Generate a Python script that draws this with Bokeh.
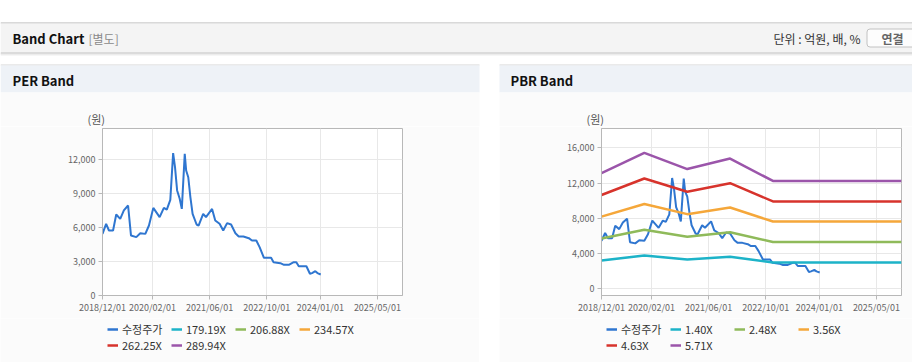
import pandas as pd
from bokeh.plotting import figure
from bokeh.models import (Range1d, FixedTicker, NumeralTickFormatter, Legend, LegendItem,
                          ColumnDataSource, Spacer)
from bokeh.layouts import column, row
from bokeh.embed import file_html
from bokeh.resources import INLINE
from bokeh.core.properties import value

FONT = "Noto Sans CJK KR"

# ---------------- data ----------------
price_name = "수정주가"
price_dates = ["2018-12-01", "2019-01-01", "2019-01-25", "2019-03-01", "2019-03-28", "2019-05-01",
               "2019-06-01", "2019-07-07", "2019-08-01", "2019-09-15", "2019-10-19", "2019-12-01",
               "2020-01-01", "2020-02-07", "2020-04-01", "2020-05-07", "2020-06-01", "2020-07-01",
               "2020-07-25", "2020-08-10", "2020-08-28", "2020-09-19", "2020-10-07", "2020-11-01",
               "2020-11-13", "2020-12-01", "2020-12-19", "2021-01-07", "2021-02-10", "2021-02-27",
               "2021-04-07", "2021-05-01", "2021-06-22", "2021-07-19", "2021-08-25", "2021-09-25",
               "2021-10-28", "2021-12-01", "2022-01-07", "2022-02-04", "2022-03-16", "2022-05-01",
               "2022-05-28", "2022-07-04", "2022-08-01", "2022-09-07", "2022-11-07", "2022-11-28",
               "2023-01-25", "2023-02-25", "2023-04-07", "2023-05-19", "2023-06-10", "2023-07-01",
               "2023-09-04", "2023-10-04", "2023-10-22", "2023-11-19", "2023-12-07", "2024-01-04"]
price_values = [5450, 6340, 5750, 5750, 7160, 6780, 7520, 7960, 5300, 5160, 5510, 5450,
                6190, 7750, 6930, 7750, 7600, 8460, 12590, 11350, 9290, 8550, 7660, 12530,
                11050, 10460, 8700, 7220, 6280, 6190, 7220, 6930, 7660, 6630, 6340, 5750,
                6400, 6280, 5510, 5220, 5220, 5070, 4860, 4860, 4280, 3330, 3330, 2950,
                2860, 2710, 2710, 2950, 2950, 2590, 2590, 1920, 1980, 2150, 1980, 1860]

# PER bands: labels only (no band values fall inside the chart)
per_band_labels = ["179.19X", "206.88X", "234.57X", "262.25X", "289.94X"]

# PBR bands
band_dates = ["2018-12-01", "2019-12-01", "2020-12-01", "2021-12-01", "2022-12-01", "2025-12-01"]
pbr_band_labels = ["1.40X", "2.48X", "3.56X", "4.63X", "5.71X"]
pbr_band_140 = [3220, 3790, 3340, 3630, 3000, 3000]
pbr_band_248 = [5710, 6710, 5910, 6430, 5320, 5320]
pbr_band_356 = [8200, 9630, 8480, 9230, 7640, 7640]
pbr_band_463 = [10660, 12530, 11030, 12000, 9930, 9930]
pbr_band_571 = [13150, 15450, 13600, 14800, 12250, 12250]

x_tick_labels = ["2018/12/01", "2020/02/01", "2021/06/01", "2022/10/01", "2024/01/01", "2025/05/01"]
per_y_ticks = [0, 3000, 6000, 9000, 12000]
pbr_y_ticks = [0, 4000, 8000, 12000, 16000]
unit_label = "(원)"

# ---------------- styles ----------------
PRICE_COLOR = "#2f76d0"
BAND_COLORS = ["#1db3c8", "#8fba5a", "#f5a73a", "#d7332c", "#9b55aa"]
AXIS_GRAY = "#b8b8b8"
GRID_GRAY = "#e8e8e8"
PANEL_BG = "#fbfbfb"
TOP_H, CHART_H, LEG_H = 126, 192, 44

x_start = pd.Timestamp("2018-12-01")
x_end = pd.Timestamp("2025-12-01")
tick_ts = [pd.to_datetime(t, format="%Y/%m/%d") for t in x_tick_labels]
tick_ms = [int(t.value // 10**6) for t in tick_ts]
overrides = {ms: lab for ms, lab in zip(tick_ms, x_tick_labels)}

price_src = ColumnDataSource(dict(x=pd.to_datetime(price_dates), y=price_values))


def make_chart(width, left, right, y_start, y_end, y_ticks):
    p = figure(width=width, height=CHART_H, title=None, x_axis_type="datetime",
               x_range=Range1d(x_start, x_end), y_range=Range1d(y_start, y_end),
               output_backend="svg", toolbar_location=None,
               min_border_left=left, min_border_right=right,
               min_border_top=2, min_border_bottom=23)
    p.background_fill_color = "#ffffff"
    p.border_fill_color = PANEL_BG
    p.outline_line_color = AXIS_GRAY
    p.xaxis.ticker = FixedTicker(ticks=tick_ms)
    p.xaxis.major_label_overrides = overrides
    p.yaxis.ticker = FixedTicker(ticks=y_ticks)
    p.yaxis.formatter = NumeralTickFormatter(format="0,0")
    for ax in (p.xaxis, p.yaxis):
        ax.axis_line_color = AXIS_GRAY
        ax.major_tick_line_color = AXIS_GRAY
        ax.major_tick_out = 4
        ax.major_tick_in = 0
        ax.minor_tick_out = 0
        ax.minor_tick_in = 0
        ax.major_label_text_font = FONT
        ax.major_label_text_font_size = "9px"
        ax.major_label_text_color = "#666666"
    p.xaxis.major_label_standoff = 1
    p.yaxis.major_label_standoff = 3
    p.grid.grid_line_color = GRID_GRAY
    return p


def make_legend_strip(width, labels, colors, x_off):
    s = figure(width=width, height=LEG_H, title=None, x_range=Range1d(0, 1), y_range=Range1d(0, 1),
               x_axis_type=None, y_axis_type=None, output_backend="svg",
               toolbar_location=None, min_border=0)
    s.outline_line_color = None
    s.grid.visible = False
    s.background_fill_color = PANEL_BG
    s.border_fill_color = PANEL_BG
    its = []
    for lab, col in zip(labels, colors):
        # style proxy drawn outside the visible range: only its legend sample shows
        r = s.line(x=[-5, -4], y=[-5, -4], line_color=col, line_width=2.5)
        its.append(LegendItem(label=lab, renderers=[r]))
    for row_items, vy in ((its[:4], 25), (its[4:], 9)):
        legend = Legend(items=row_items, location=(x_off, vy), orientation="horizontal",
                        margin=0, padding=0, spacing=1, glyph_width=11, glyph_height=16,
                        label_height=16, label_width=48, label_standoff=4,
                        label_text_font=FONT, label_text_font_size="11px",
                        label_text_color="#333333", background_fill_alpha=0,
                        border_line_alpha=0)
        s.add_layout(legend, "center")
    return s


# ---------------- PER chart ----------------
per = make_chart(479, 102, 77, 0, 14770, per_y_ticks)
per.line("x", "y", source=price_src, line_color=PRICE_COLOR, line_width=2)
per_leg = make_legend_strip(479, [price_name] + per_band_labels,
                            [PRICE_COLOR] + BAND_COLORS, 107)

# ---------------- PBR chart ----------------
pbr = make_chart(413, 102, 11, -760, 18210, pbr_y_ticks)
pbr.line("x", "y", source=price_src, line_color=PRICE_COLOR, line_width=2)
band_x = pd.to_datetime(band_dates)
for vals, col in zip([pbr_band_140, pbr_band_248, pbr_band_356, pbr_band_463, pbr_band_571],
                     BAND_COLORS):
    pbr.line(x=band_x, y=vals, line_color=col, line_width=2.5)
pbr_leg = make_legend_strip(413, [price_name] + pbr_band_labels,
                            [PRICE_COLOR] + BAND_COLORS, 107)

# ---------------- page header (pixel canvas) ----------------
top = figure(width=912, height=TOP_H, title=None, x_range=Range1d(0, 912),
             y_range=Range1d(TOP_H, 0), x_axis_type=None, y_axis_type=None,
             output_backend="svg", toolbar_location=None, min_border=0)
top.outline_line_color = None
top.grid.visible = False
top.background_fill_color = "#ffffff"
top.border_fill_color = "#ffffff"
top.quad(left=[0, 0, 0, 0, 0, 0, 0, 499, 499, 0, 499],
         right=[912, 912, 912, 912, 912, 479, 479, 912, 912, 479, 912],
         top=[22, 23, 52, 53, 54, 64, 65, 64, 65, 92, 92],
         bottom=[23, 52, 53, 54, 55, 65, 92, 65, 92, TOP_H, TOP_H],
         fill_color=["#b4b4b4", "#f4f4f4", "#bdbdbd", "#d8d8d8", "#eeeeee",
                     "#d6d6d6", "#eef2f7", "#d6d6d6", "#eef2f7", PANEL_BG, PANEL_BG],
         line_color=None)
top.quad(left=[866.5], right=[920], top=[28.5], bottom=[46.5], fill_color="#fdfdfd",
         line_color="#c2c2c2", line_width=1, border_radius=3)
top.text(x=[12], y=[38], text=["Band Chart"], text_font=value(FONT), text_font_style="bold",
         text_font_size="13px", text_color="#111111", text_baseline="middle", text_align="left")
top.text(x=[88], y=[38], text=["[별도]"], text_font=value(FONT), text_font_size="12px",
         text_color="#8a8a8a", text_baseline="middle", text_align="left")
top.text(x=[860], y=[38], text=["단위 : 억원, 배, %"], text_font=value(FONT),
         text_font_size="12px", text_color="#333333", text_baseline="middle", text_align="right")
top.text(x=[892], y=[37.5], text=["연결"], text_font=value(FONT), text_font_style="bold",
         text_font_size="12px", text_color="#666666", text_baseline="middle", text_align="center")
top.text(x=[12, 510], y=[80, 80], text=["PER Band", "PBR Band"], text_font=value(FONT),
         text_font_style="bold", text_font_size="13px", text_color="#111111",
         text_baseline="middle", text_align="left")
top.text(x=[87, 586], y=[118, 118], text=[unit_label, unit_label], text_font=value(FONT),
         text_font_size="11px", text_color="#555555", text_baseline="middle", text_align="left")

layout = column(top,
                row(per, Spacer(width=20, height=CHART_H), pbr),
                row(per_leg, Spacer(width=20, height=LEG_H), pbr_leg))

open("out.html", "w").write(file_html(layout, INLINE))
